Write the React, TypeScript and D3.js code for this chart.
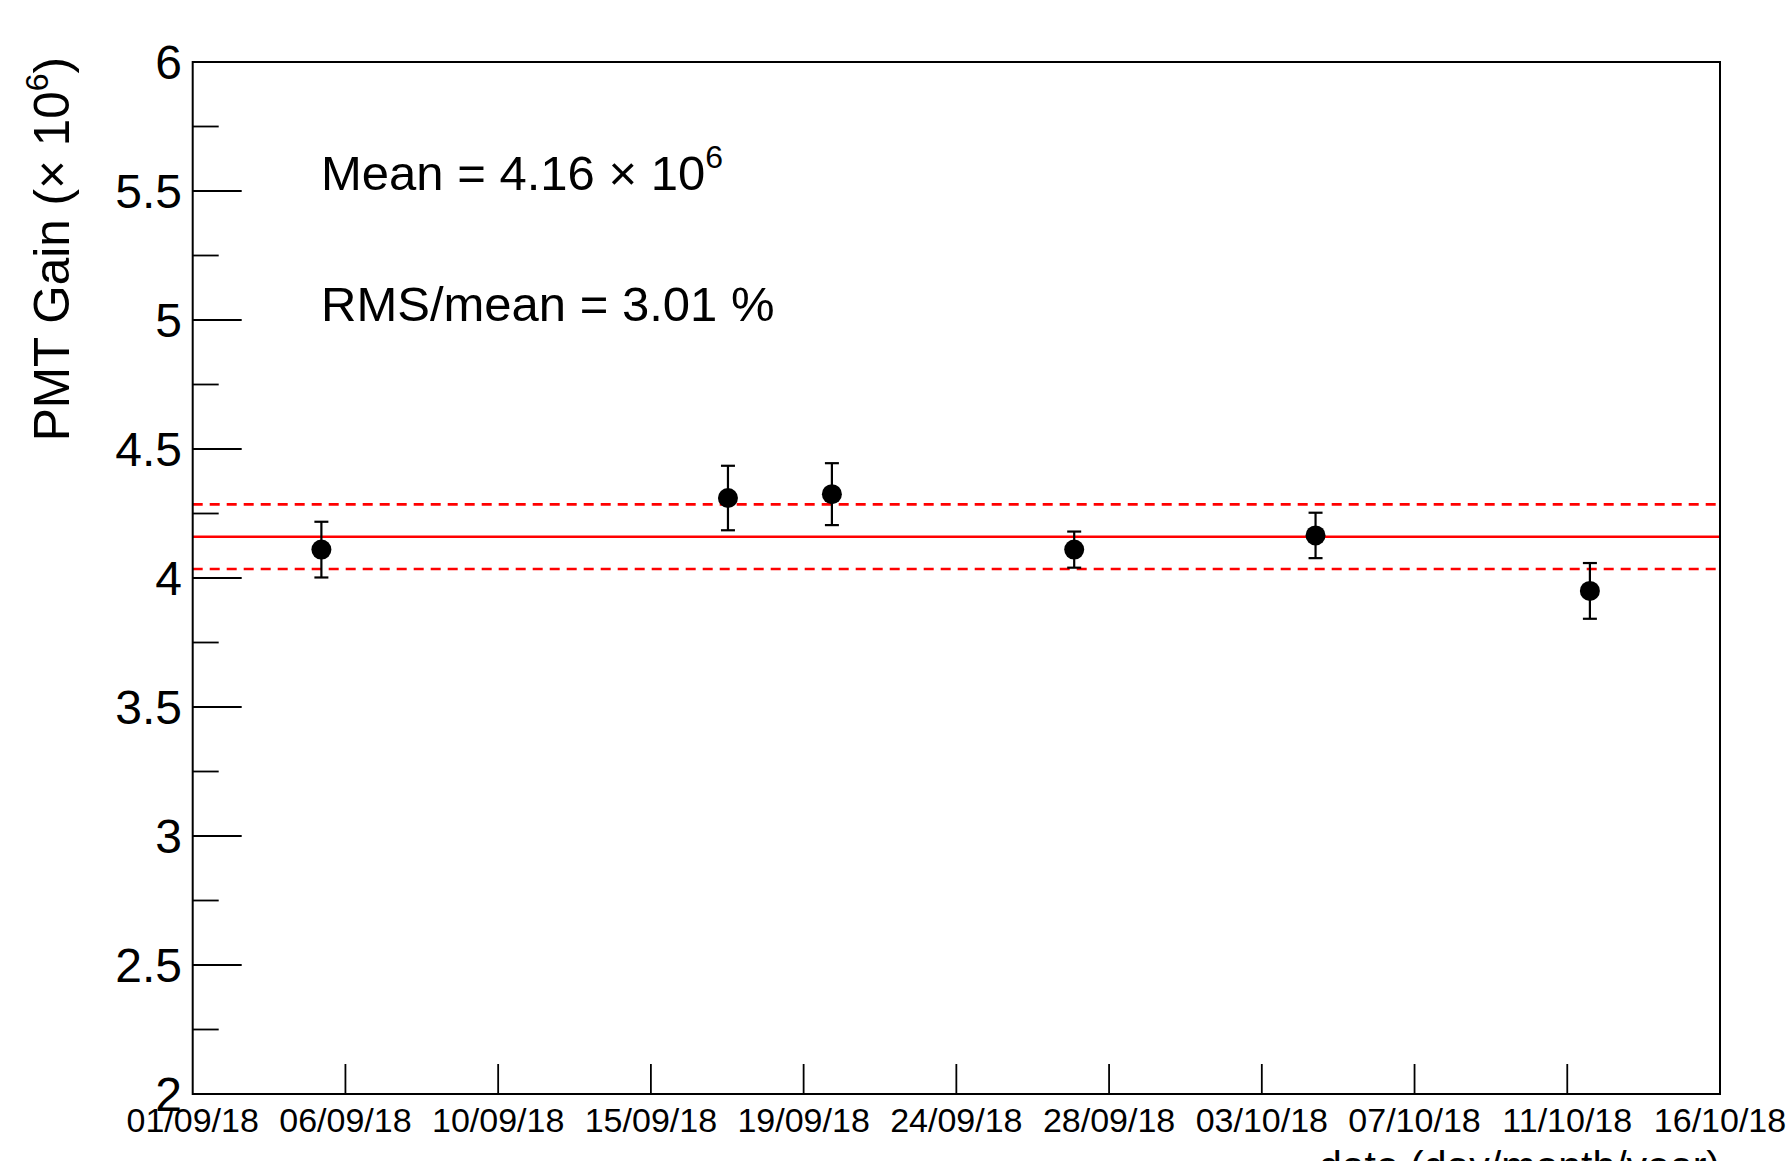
import React from 'react';
import * as d3 from 'd3';

// canvas and frame
const W = 1792;
const H = 1161;
const frame = { left: 192.7, right: 1720, top: 62, bottom: 1094 };
const FONT = '"Liberation Sans", Arial, Helvetica, sans-serif';

// data
const runDates = [
  '2018-09-04T19:00',
  '2018-09-16T18:30',
  '2018-09-19T20:00',
  '2018-09-26T23:20',
  '2018-10-04T02:00',
  '2018-10-12T04:00',
];
const gains = [4.11, 4.31, 4.325, 4.11, 4.165, 3.95];
const gainErrors = [0.108, 0.125, 0.12, 0.07, 0.088, 0.108];

const xTickLabels = [
  '01/09/18', '06/09/18', '10/09/18', '15/09/18', '19/09/18', '24/09/18',
  '28/09/18', '03/10/18', '07/10/18', '11/10/18', '16/10/18',
];
const xStart = '2018-09-01T00:00';
const xEnd = '2018-10-16T00:00';
const yDomain = [2, 6];
const yMajorStep = 0.5;
const yMinorStep = 0.25;

const meanGain = 4.16;
const rmsPct = 3.01;

const parse = d3.utcParse('%Y-%m-%dT%H:%M');

export default function App() {
  const x = d3.scaleUtc()
    .domain([parse(xStart)!, parse(xEnd)!])
    .range([frame.left, frame.right]);
  const y = d3.scaleLinear().domain(yDomain).range([frame.bottom, frame.top]);

  const t0 = +parse(xStart)!;
  const t1 = +parse(xEnd)!;
  const xTicks = xTickLabels.map((label, i) => ({
    label,
    date: new Date(t0 + (i * (t1 - t0)) / (xTickLabels.length - 1)),
  }));

  const majorY = d3.range(yDomain[0], yDomain[1] + 1e-9, yMajorStep);
  const minorY = d3.range(yDomain[0], yDomain[1] + 1e-9, yMinorStep)
    .filter((v) => Math.abs(v / yMajorStep - Math.round(v / yMajorStep)) > 1e-6);

  const points = runDates.map((d, i) => ({ date: parse(d)!, g: gains[i], e: gainErrors[i] }));
  const rms = (meanGain * rmsPct) / 100;

  return (
    <svg width={W} height={H} style={{ position: 'absolute', left: 0, top: 0, background: '#fff' }}
      fontFamily={FONT}>
      <rect x={0} y={0} width={W} height={H} fill="#fff" />

      {/* mean and +-RMS lines */}
      <line x1={frame.left} x2={frame.right} y1={y(meanGain)} y2={y(meanGain)} stroke="#ff0000" strokeWidth={2.6} />
      {[meanGain + rms, meanGain - rms].map((v, i) => (
        <line key={i} x1={frame.left} x2={frame.right} y1={y(v)} y2={y(v)}
          stroke="#ff0000" strokeWidth={2.6} strokeDasharray="10,7" />
      ))}

      {/* frame */}
      <rect x={frame.left} y={frame.top} width={frame.right - frame.left} height={frame.bottom - frame.top}
        fill="none" stroke="#000" strokeWidth={2} />

      {/* y axis */}
      {majorY.map((v) => (
        <g key={'ym' + v}>
          <line x1={frame.left} x2={frame.left + 49} y1={y(v)} y2={y(v)} stroke="#000" strokeWidth={1.8} />
          <text x={182} y={y(v)} dy="0.36em" textAnchor="end" fontSize={48}>{d3.format('~g')(v)}</text>
        </g>
      ))}
      {minorY.map((v) => (
        <line key={'yn' + v} x1={frame.left} x2={frame.left + 26} y1={y(v)} y2={y(v)} stroke="#000" strokeWidth={1.8} />
      ))}

      {/* x axis */}
      {xTicks.map((t, i) => (
        <g key={'x' + i}>
          {i > 0 && i < xTicks.length - 1 && (
            <line x1={x(t.date)} x2={x(t.date)} y1={frame.bottom} y2={frame.bottom - 30} stroke="#000" strokeWidth={1.8} />
          )}
          <text x={x(t.date)} y={1132} textAnchor="middle" fontSize={34}>{t.label}</text>
        </g>
      ))}

      {/* data points with error bars */}
      {points.map((p, i) => {
        const cx = x(p.date);
        const yt = y(p.g + p.e);
        const yb = y(p.g - p.e);
        return (
          <g key={'p' + i} stroke="#000" strokeWidth={2.2}>
            <line x1={cx} x2={cx} y1={yt} y2={yb} />
            <line x1={cx - 7} x2={cx + 7} y1={yt} y2={yt} />
            <line x1={cx - 7} x2={cx + 7} y1={yb} y2={yb} />
            <circle cx={cx} cy={y(p.g)} r={10} fill="#000" stroke="none" />
          </g>
        );
      })}

      {/* annotations */}
      <text x={321} y={190} fontSize={49}>
        {`Mean = ${meanGain.toFixed(2)} \u00d7 10`}
        <tspan dy={-22} fontSize={32}>6</tspan>
      </text>
      <text x={321} y={321} fontSize={49}>{`RMS/mean = ${rmsPct.toFixed(2)} %`}</text>

      {/* axis titles */}
      <text transform="translate(69,57) rotate(-90)" textAnchor="end" fontSize={49.5}>
        {'PMT Gain (\u00d7 10'}
        <tspan dy={-21} fontSize={32}>6</tspan>
        <tspan dy={21}>)</tspan>
      </text>
      <text x={frame.right} y={1180} textAnchor="end" fontSize={41}>date (day/month/year)</text>
    </svg>
  );
}
